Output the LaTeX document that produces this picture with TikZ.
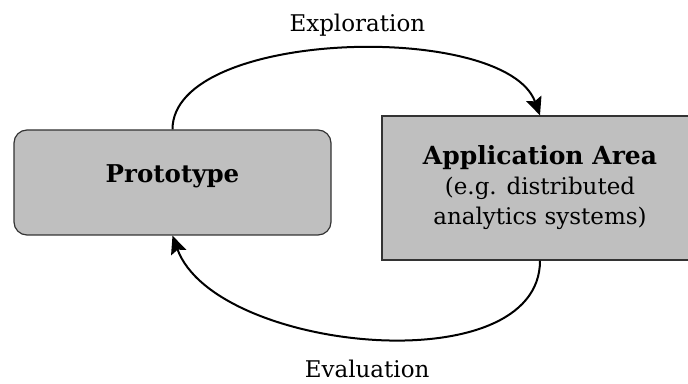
\documentclass[tikz,border=0pt]{standalone}
\usepackage{fontspec}
\setmainfont{DejaVu Serif}
\usetikzlibrary{arrows.meta}
\begin{document}
\begin{tikzpicture}[line width=2pt, x=1pt, y=1pt, font=\fontsize{23}{30}\selectfont,
  flow/.style={-{Stealth[length=18pt, width=16pt, inset=3pt]}}]
\useasboundingbox (0,0) rectangle (688,383);

\node[draw=black!80, line width=1.2pt, rounded corners=13pt, fill=black!25, minimum width=317pt, inner sep=0pt, text height=53pt, text depth=52pt] (proto) at (172.5,200.5)
{\fontsize{24.5}{30}\selectfont\textbf{Prototype}};

\node[draw=black!80, line width=1.2pt, fill=black!25, minimum width=316pt, minimum height=144pt, align=center] (app) at (540,195)
{\fontsize{25}{30}\selectfont\textbf{Application Area}\\
(e.g. distributed\\
analytics systems)};

\draw[flow] (proto.north) to[out=90, in=110, looseness=0.7] node[above=9pt, xshift=14pt] (explo) {Exploration} (app.north);
\draw[flow] (app.south) to[out=-90, in=-70, looseness=0.86] node[below=18pt, xshift=-5pt] (evalu) {Evaluation} (proto.south);
\end{tikzpicture}
\end{document}
